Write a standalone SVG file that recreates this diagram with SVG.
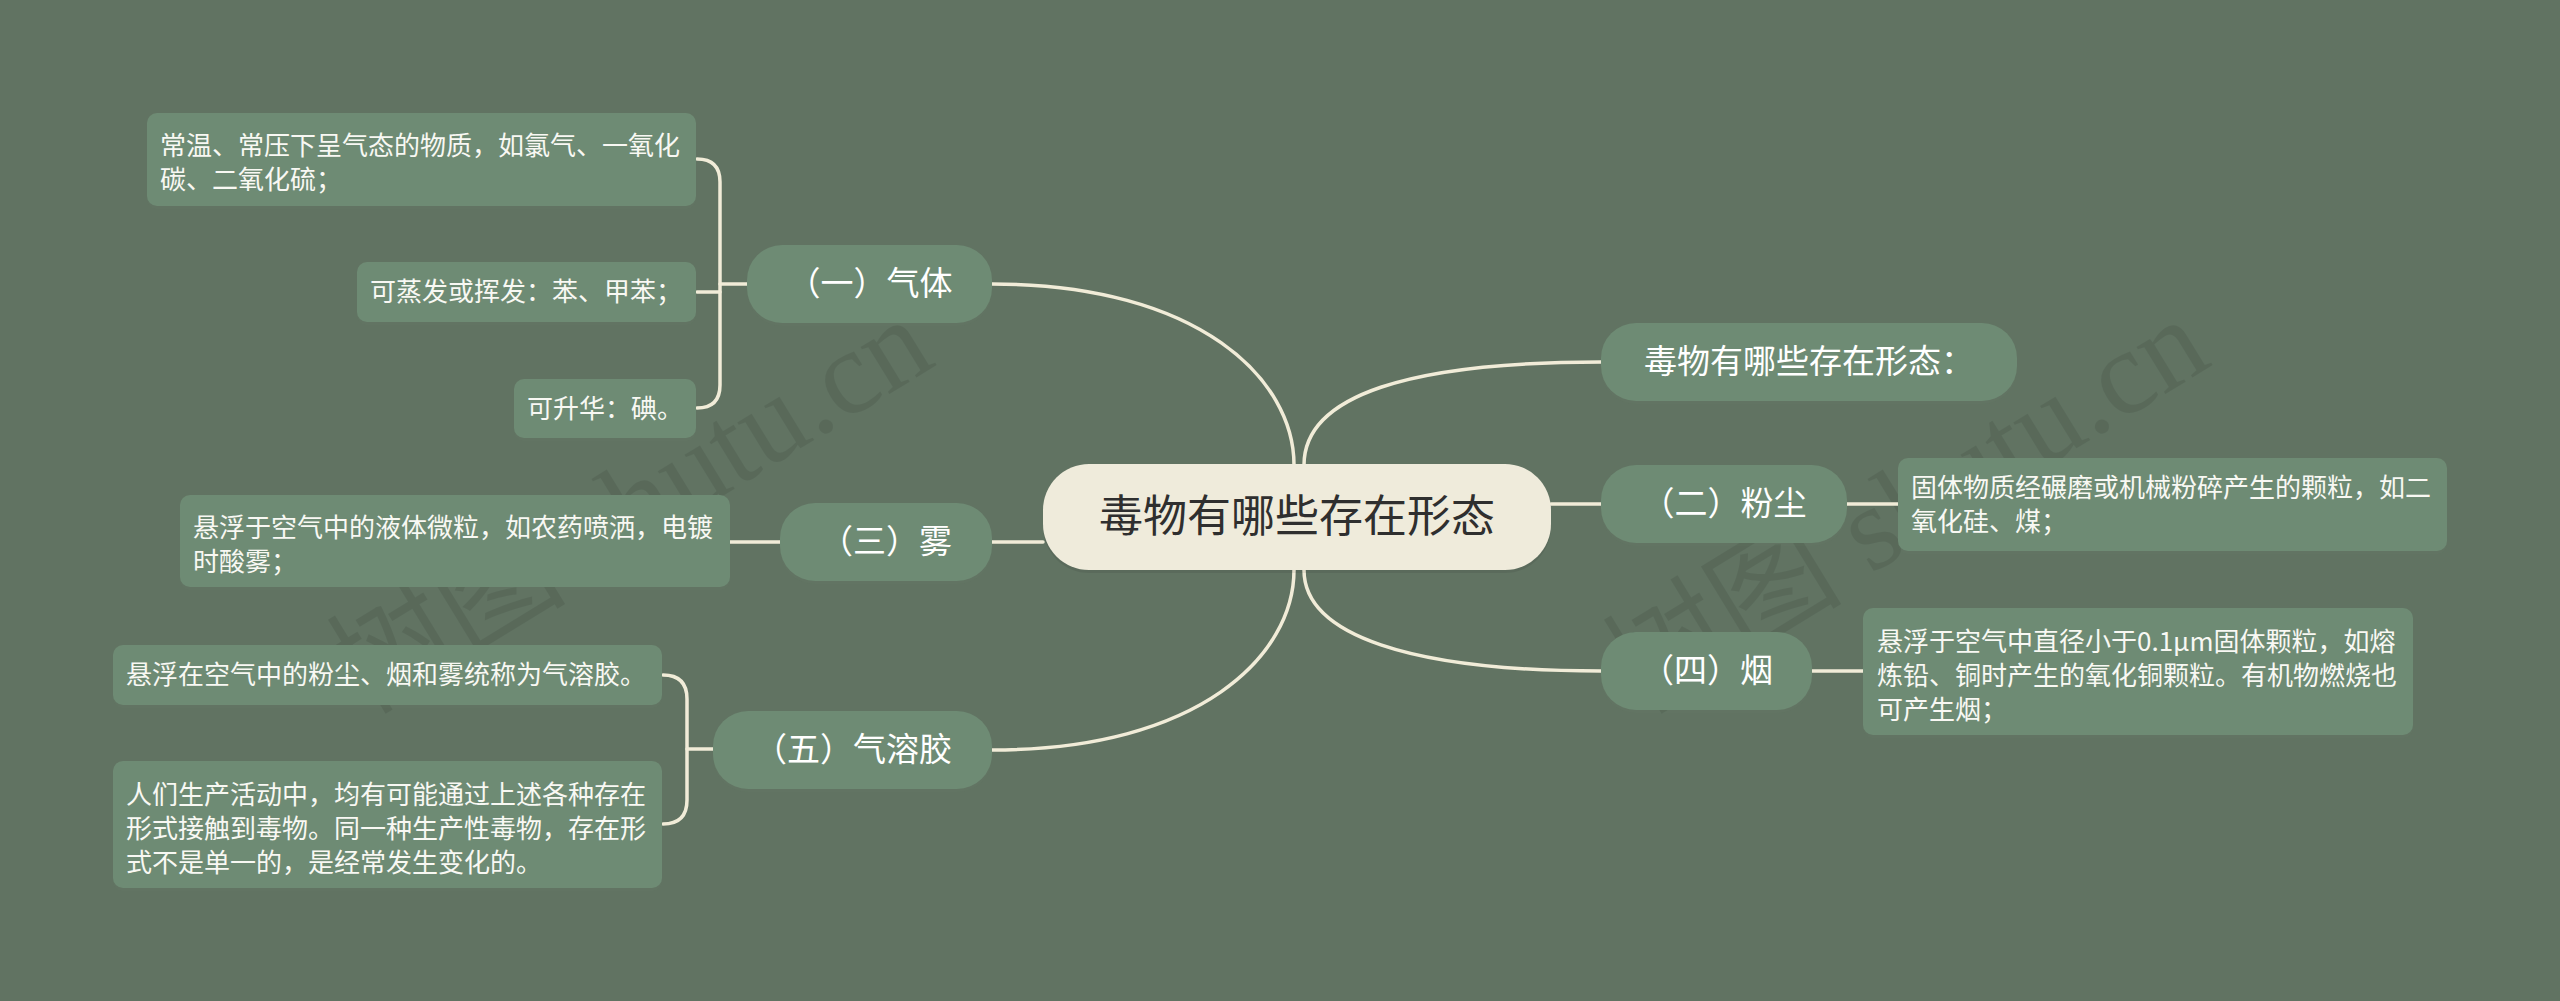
<svg xmlns="http://www.w3.org/2000/svg" width="2560" height="1001" viewBox="0 0 2560 1001">
<style>
.bg{fill:#617362}
.node rect{fill:#6e8b74}
.shadow{fill:#000;opacity:0.07}
.nt{font-family:"Noto Sans CJK SC","Noto Sans",sans-serif;font-size:33px;fill:#ffffff;text-anchor:middle}
.lt{font-family:"Noto Sans CJK SC","Noto Sans",sans-serif;font-size:26px;fill:#f8f8f3}
.ct{font-family:"Noto Sans CJK SC","Noto Sans",sans-serif;font-size:44px;fill:#2f2f2f;text-anchor:middle}
.conn path{fill:none;stroke:#f1ecd8;stroke-width:3.5;stroke-linecap:round}
.wm{font-family:"Liberation Serif","Noto Sans CJK SC",serif;font-size:120px;fill:#000;opacity:0.08;text-anchor:middle}
</style>
<rect class="bg" x="0" y="0" width="2560" height="1001"/>

<g id="watermarks">
<text class="wm" transform="translate(651,540) rotate(-31.5)">树图 shutu.cn</text>
<text class="wm" transform="translate(1927,540) rotate(-31.5)">树图 shutu.cn</text>
</g>

<g id="connectors" class="conn">
<path d="M992,284 C1200,284 1294,380 1294,465"/>
<path d="M1601,362 C1410,362 1304,395 1304,465"/>
<path d="M992,750 C1200,750 1294,655 1294,570"/>
<path d="M1601,671 C1410,671 1304,635 1304,570"/>
<path d="M992,542 L1043,542"/>
<path d="M1551,504 L1601,504"/>
<path d="M747,284 L720,284"/>
<path d="M697,159 Q720,159 720,182 L720,385 Q720,408 697,408"/>
<path d="M720,292 L697,292"/>
<path d="M730,542 L780,542"/>
<path d="M713,749 L687,749"/>
<path d="M663,675 Q687,675 687,699 L687,800 Q687,824 663,824"/>
<path d="M1847,504 L1898,504"/>
<path d="M1812,671 L1863,671"/>
</g>

<g id="center">
<rect class="shadow" x="1043" y="467" width="508" height="106" rx="46"/>
<rect x="1043" y="464" width="508" height="106" rx="46" fill="#efebdb"/>
<text class="ct" x="1297" y="532">毒物有哪些存在形态</text>
</g>

<g id="n-gas" class="node">
<rect class="shadow" x="747" y="248" width="245" height="78" rx="35"/>
<rect x="747" y="245" width="245" height="78" rx="35"/>
<text class="nt" x="870" y="295">（一）气体</text>
</g>
<g id="n-fog" class="node">
<rect class="shadow" x="780" y="506" width="212" height="78" rx="35"/>
<rect x="780" y="503" width="212" height="78" rx="35"/>
<text class="nt" x="886" y="553">（三）雾</text>
</g>
<g id="n-aerosol" class="node">
<rect class="shadow" x="713" y="714" width="279" height="78" rx="35"/>
<rect x="713" y="711" width="279" height="78" rx="35"/>
<text class="nt" x="853" y="761">（五）气溶胶</text>
</g>
<g id="n-forms" class="node">
<rect class="shadow" x="1601" y="326" width="416" height="78" rx="35"/>
<rect x="1601" y="323" width="416" height="78" rx="35"/>
<text class="nt" x="1809" y="373">毒物有哪些存在形态：</text>
</g>
<g id="n-dust" class="node">
<rect class="shadow" x="1601" y="468" width="246" height="78" rx="35"/>
<rect x="1601" y="465" width="246" height="78" rx="35"/>
<text class="nt" x="1724" y="515">（二）粉尘</text>
</g>
<g id="n-smoke" class="node">
<rect class="shadow" x="1601" y="635" width="211" height="78" rx="35"/>
<rect x="1601" y="632" width="211" height="78" rx="35"/>
<text class="nt" x="1707" y="682">（四）烟</text>
</g>

<g id="l-gas1" class="node">
<rect class="shadow" x="147" y="116" width="549" height="93" rx="10"/>
<rect x="147" y="113" width="549" height="93" rx="10"/>
<text class="lt" x="160" y="155">常温、常压下呈气态的物质，如氯气、一氧化</text>
<text class="lt" x="160" y="189">碳、二氧化硫；</text>
</g>
<g id="l-gas2" class="node">
<rect class="shadow" x="357" y="265" width="339" height="60" rx="10"/>
<rect x="357" y="262" width="339" height="60" rx="10"/>
<text class="lt" x="370" y="301">可蒸发或挥发：苯、甲苯；</text>
</g>
<g id="l-gas3" class="node">
<rect class="shadow" x="514" y="382" width="182" height="59" rx="10"/>
<rect x="514" y="379" width="182" height="59" rx="10"/>
<text class="lt" x="527" y="418">可升华：碘。</text>
</g>
<g id="l-fog" class="node">
<rect class="shadow" x="180" y="498" width="550" height="92" rx="10"/>
<rect x="180" y="495" width="550" height="92" rx="10"/>
<text class="lt" x="193" y="537">悬浮于空气中的液体微粒，如农药喷洒，电镀</text>
<text class="lt" x="193" y="571">时酸雾；</text>
</g>
<g id="l-aer1" class="node">
<rect class="shadow" x="113" y="648" width="549" height="60" rx="10"/>
<rect x="113" y="645" width="549" height="60" rx="10"/>
<text class="lt" x="126" y="684">悬浮在空气中的粉尘、烟和雾统称为气溶胶。</text>
</g>
<g id="l-aer2" class="node">
<rect class="shadow" x="113" y="764" width="549" height="127" rx="10"/>
<rect x="113" y="761" width="549" height="127" rx="10"/>
<text class="lt" x="126" y="804">人们生产活动中，均有可能通过上述各种存在</text>
<text class="lt" x="126" y="838">形式接触到毒物。同一种生产性毒物，存在形</text>
<text class="lt" x="126" y="872">式不是单一的，是经常发生变化的。</text>
</g>
<g id="l-dust" class="node">
<rect class="shadow" x="1898" y="461" width="549" height="93" rx="10"/>
<rect x="1898" y="458" width="549" height="93" rx="10"/>
<text class="lt" x="1911" y="497">固体物质经碾磨或机械粉碎产生的颗粒，如二</text>
<text class="lt" x="1911" y="531">氧化硅、煤；</text>
</g>
<g id="l-smoke" class="node">
<rect class="shadow" x="1863" y="611" width="550" height="127" rx="10"/>
<rect x="1863" y="608" width="550" height="127" rx="10"/>
<text class="lt" x="1877" y="651">悬浮于空气中直径小于0.1μm固体颗粒，如熔</text>
<text class="lt" x="1877" y="685">炼铅、铜时产生的氧化铜颗粒。有机物燃烧也</text>
<text class="lt" x="1877" y="719">可产生烟；</text>
</g>
</svg>
